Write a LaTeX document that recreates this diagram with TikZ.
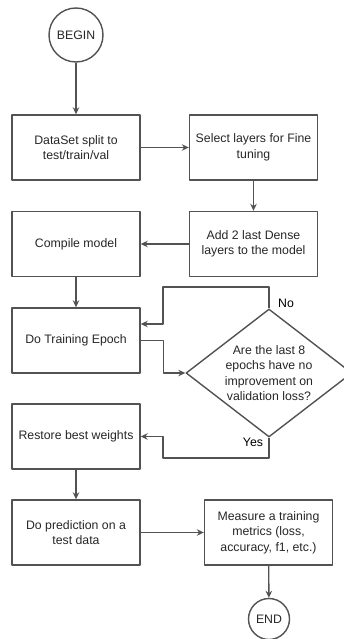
\documentclass[tikz,border=0pt]{standalone}
\usepackage{fontspec}
\setmainfont{Liberation Sans}
\usetikzlibrary{shapes.geometric,arrows.meta}
\colorlet{lin}{black!68}
\tikzset{
	box/.style={draw=lin, line width=1.4pt, minimum width=128pt, minimum height=65pt, inner sep=2pt, align=center, text=black!85},
	term/.style={draw=lin, line width=1.4pt, circle, inner sep=0pt, text=black!85},
	ask/.style={draw=lin, line width=1.4pt, diamond, aspect=1.3, inner sep=0pt, minimum width=166pt, minimum height=128pt, align=center, text=black!85},
	flow/.style={draw=lin, line width=1.4pt, ->},
}
\begin{document}
\begin{tikzpicture}[x=1pt, y=-1pt, font=\fontsize{12.3}{15.5}\selectfont, line join=round, >={Stealth[length=7pt,width=6.5pt]}]
	\def\xl{76} \def\xr{253.5}
	\useasboundingbox (0,0) rectangle (344,639);
	\node[term, minimum size=54pt] (begin) at (\xl,35) {BEGIN};
	\node[box] (split) at (\xl,147.5) {DataSet split to\\test/train/val};
	\node[box] (select) at (\xr,147.5) {Select layers for Fine\\tuning};
	\node[box] (dense) at (\xr,244) {Add 2 last Dense\\layers to the model};
	\node[box] (compile) at (\xl,244) {Compile model};
	\node[box] (train) at (\xl,340.5) {Do Training Epoch};
	\node[ask] (check) at (269,373) {Are the last 8\\epochs have no\\improvement on\\validation loss?};
	\node[box] (restore) at (\xl,436.5) {Restore best weights};
	\node[box] (predict) at (\xl,532.5) {Do prediction on a\\test data};
	\node[box] (measure) at (268.5,532.5) {Measure a training\\metrics (loss,\\accuracy, f1, etc.)};
	\node[term, minimum size=41pt] (end) at (269,619) {END};
	% bends of the loop
	\coordinate (noturn) at (163,287);
	\coordinate (yesturn) at (163,458);
	\draw[flow] (begin) -- (split);
	\draw[flow] (split) -- (select);
	\draw[flow] (select) -- (dense);
	\draw[flow] (dense) -- (compile);
	\draw[flow] (compile) -- (train);
	\draw[flow] (train.east) -- ++(23,0) |- (check.west);
	\draw[flow] (check.north) |- (noturn) |- ([yshift=16.5pt]train.east);
	\draw[flow] (check.south) |- (yesturn) |- (restore.east);
	\draw[flow] (restore) -- (predict);
	\draw[flow] (predict) -- (measure);
	\draw[flow] (measure) -- (end);
	\node (no) at (286,303) {No};
	\node (yes) at (253,442) {Yes};
\end{tikzpicture}
\end{document}
